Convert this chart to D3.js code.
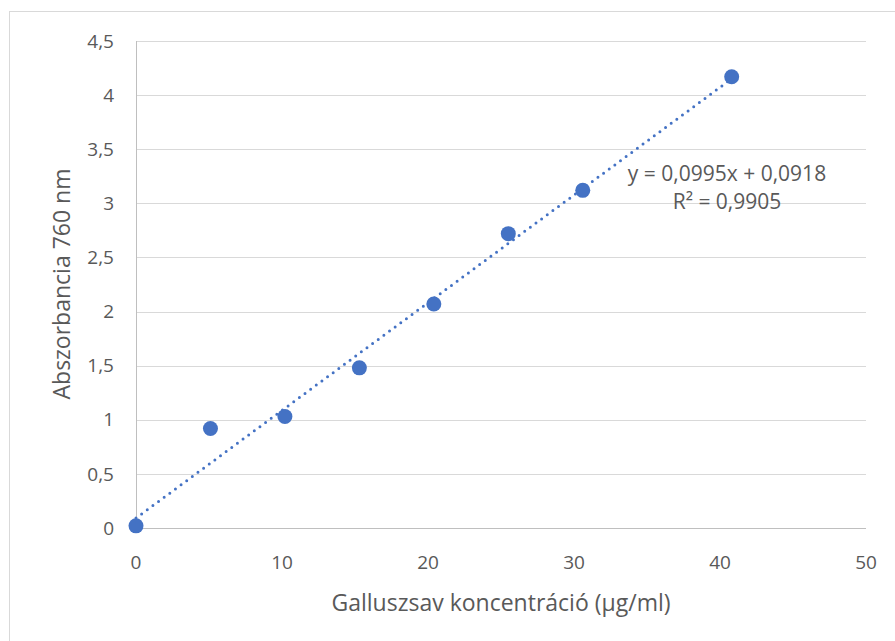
<!DOCTYPE html>
<html>
<head>
<meta charset="utf-8">
<script src="https://cdn.jsdelivr.net/npm/d3@7"></script>
<style>
  body { margin: 0; background: #fff; }
  text { font-family: "Open Sans", "Liberation Sans", sans-serif; fill: #595959; }
</style>
</head>
<body>
<div id="chart"></div>
<script>
// gallic acid calibration points
var concentration = [0, 5.1, 10.2, 15.3, 20.4, 25.5, 30.6, 40.8];
var absorbance = [0.02, 0.92, 1.03, 1.48, 2.07, 2.72, 3.12, 4.17];
var xTicks = [0, 10, 20, 30, 40, 50];
var yTicks = [0, 0.5, 1, 1.5, 2, 2.5, 3, 3.5, 4, 4.5];
var slope = 0.0995, intercept = 0.0918;
var eqText = "y = 0,0995x + 0,0918";
var r2Text = "R² = 0,9905";

var width = 895, height = 641;
var plotLeft = 136, plotRight = 866, plotTop = 41, plotBottom = 528;

var svg = d3.select("#chart").append("svg")
    .attr("width", width).attr("height", height);

// chart frame
svg.append("rect").attr("x", 9.5).attr("y", 11.5)
    .attr("width", 900).attr("height", 700)
    .attr("fill", "#fff").attr("stroke", "#d9d9d9");

var xScale = d3.scaleLinear().domain([0, 50]).range([plotLeft, plotRight]);
var yScale = d3.scaleLinear().domain([0, 4.5]).range([plotBottom, plotTop]);
var fmt = function(d) { return String(d).replace(".", ","); };

// gridlines
svg.append("g").selectAll("line").data(yTicks.filter(function(d) { return d > 0; }))
  .enter().append("line")
    .attr("x1", plotLeft).attr("x2", plotRight)
    .attr("y1", function(d) { return Math.round(yScale(d)) + 0.5; })
    .attr("y2", function(d) { return Math.round(yScale(d)) + 0.5; })
    .attr("stroke", "#d9d9d9");

// axis lines
svg.append("line").attr("x1", plotLeft).attr("x2", plotRight)
    .attr("y1", plotBottom + 0.5).attr("y2", plotBottom + 0.5).attr("stroke", "#bfbfbf");
svg.append("line").attr("x1", plotLeft + 0.5).attr("x2", plotLeft + 0.5)
    .attr("y1", plotTop).attr("y2", plotBottom).attr("stroke", "#bfbfbf");

// tick labels
svg.append("g").selectAll("text").data(yTicks).enter().append("text")
    .attr("x", 114).attr("y", function(d) { return yScale(d); })
    .attr("dy", "0.35em").attr("text-anchor", "end")
    .style("font-size", "19px").text(fmt);

svg.append("g").selectAll("text").data(xTicks).enter().append("text")
    .attr("x", function(d) { return xScale(d); }).attr("y", 562)
    .attr("dy", "0.35em").attr("text-anchor", "middle")
    .style("font-size", "19px").text(fmt);

// axis titles
svg.append("text").attr("x", 501).attr("y", 603).attr("dy", "0.35em")
    .attr("text-anchor", "middle").style("font-size", "23px")
    .text("Galluszsav koncentráció (µg/ml)");
svg.append("text").attr("transform", "translate(62,284) rotate(-90)")
    .attr("dy", "0.35em").attr("text-anchor", "middle").style("font-size", "23px")
    .text("Abszorbancia 760 nm");

// linear trendline
var xMin = d3.min(concentration), xMax = d3.max(concentration);
svg.append("line")
    .attr("x1", xScale(xMin)).attr("y1", yScale(slope * xMin + intercept))
    .attr("x2", xScale(xMax)).attr("y2", yScale(slope * xMax + intercept))
    .attr("stroke", "#4472c4").attr("stroke-width", 3)
    .attr("stroke-linecap", "round").attr("stroke-dasharray", "0 7");

// points
svg.append("g").selectAll("circle").data(concentration).enter().append("circle")
    .attr("cx", function(d) { return xScale(d); })
    .attr("cy", function(d, i) { return yScale(absorbance[i]); })
    .attr("r", 7.5).attr("fill", "#4472c4");

// equation label
svg.append("text").attr("x", 727).attr("y", 174).attr("dy", "0.35em")
    .attr("text-anchor", "middle").style("font-size", "21px").text(eqText);
svg.append("text").attr("x", 727).attr("y", 202).attr("dy", "0.35em")
    .attr("text-anchor", "middle").style("font-size", "21px").text(r2Text);
</script>
</body>
</html>
